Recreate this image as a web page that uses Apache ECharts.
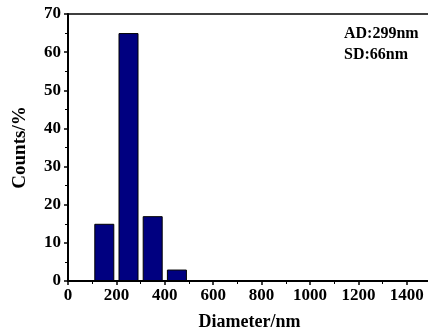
<!DOCTYPE html>
<html>
<head>
<meta charset="utf-8">
<script src="https://cdn.jsdelivr.net/npm/echarts@6/dist/echarts.min.js"></script>
<style>
  html, body { margin: 0; padding: 0; background: #fff; }
  #chart { width: 428px; height: 336px; }
</style>
</head>
<body>
<div id="chart"></div>
<script>
// bin centres (nm) and counts (%)
const diameters = [150, 250, 350, 450];
const counts = [15, 65, 17, 3];
const notes = ['AD:299nm', 'SD:66nm'];

const font = 'Liberation Serif, Times New Roman, serif';
const myChart = echarts.init(document.getElementById('chart'));

myChart.setOption({
  animation: false,
  grid: {
    left: 68,
    top: 14,
    right: -3,
    bottom: 55,
    outerBoundsMode: 'none',
    containLabel: false,
    show: true,
    borderColor: '#000',
    borderWidth: 1.5,
  },
  xAxis: {
    type: 'value',
    min: 0,
    max: 1500,
    interval: 200,
    name: 'Diameter/nm',
    nameLocation: 'middle',
    nameGap: 32,
    nameTextStyle: { color: '#000', fontFamily: font, fontWeight: 'bold', fontSize: 18 },
    axisLine: { lineStyle: { color: '#000', width: 2 } },
    axisTick: { length: 4, lineStyle: { color: '#000', width: 1.5 } },
    minorTick: { show: true, splitNumber: 2, length: 3, lineStyle: { color: '#000', width: 1 } },
    axisLabel: {
      color: '#000', fontFamily: font, fontWeight: 'bold', fontSize: 17, margin: 6,
      formatter: (v) => (v > 1400 ? '' : v),
    },
    splitLine: { show: false },
  },
  yAxis: {
    type: 'value',
    min: 0,
    max: 70,
    interval: 10,
    name: 'Counts/%',
    nameLocation: 'middle',
    nameGap: 38,
    nameTextStyle: { color: '#000', fontFamily: font, fontWeight: 'bold', fontSize: 19 },
    axisLine: { lineStyle: { color: '#000', width: 2 } },
    axisTick: { length: 4, lineStyle: { color: '#000', width: 1.5 } },
    minorTick: { show: true, splitNumber: 2, length: 3, lineStyle: { color: '#000', width: 1 } },
    axisLabel: { color: '#000', fontFamily: font, fontWeight: 'bold', fontSize: 17, margin: 7 },
    splitLine: { show: false },
  },
  graphic: [
    {
      type: 'text',
      left: 344,
      top: 23,
      style: {
        text: notes.join('\n'),
        font: 'bold 16px ' + font,
        lineHeight: 21,
        fill: '#000',
      },
    },
  ],
  series: [
    {
      type: 'bar',
      barWidth: 20,
      data: diameters.map((d, i) => [d, counts[i]]),
      itemStyle: { color: '#000080', borderColor: '#000', borderWidth: 1 },
    },
  ],
});
</script>
</body>
</html>
